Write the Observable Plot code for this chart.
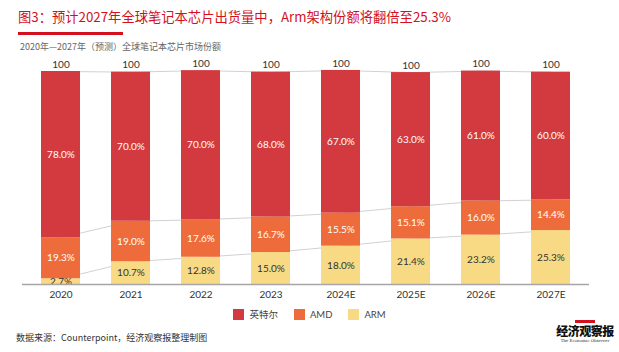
<!DOCTYPE html>
<html>
<head>
<meta charset="utf-8">
<script src="https://cdn.jsdelivr.net/npm/d3@7"></script>
<script src="https://cdn.jsdelivr.net/npm/@observablehq/plot@0.6"></script>
<style>
  html, body { margin: 0; padding: 0; background: #fff; }
  #page { position: relative; width: 619px; height: 352px; overflow: hidden; font-family: "Noto Sans CJK SC", "Noto Sans", sans-serif; }
  #title { position: absolute; left: 18px; top: 7px; font-size: 13.3px; color: #d2101e; white-space: nowrap; }
  #underline { position: absolute; left: 18px; top: 32px; width: 105px; height: 3px; background: #d2101e; }
  #subtitle { position: absolute; left: 20px; top: 40px; font-size: 9px; color: #666; white-space: nowrap; }
  #chart { position: absolute; left: 0; top: 55px; }
  #legend { position: absolute; left: 0; top: 307px; width: 619px; display: flex; justify-content: center; align-items: center; font-size: 9.5px; color: #444; font-family: Lato, "Noto Sans CJK SC", sans-serif; }
  #legend .item { display: flex; align-items: center; margin: 0 8px 0 8px; }
  #legend .sw { width: 11px; height: 11px; margin-right: 5px; }
  #source { position: absolute; left: 16px; top: 331px; font-size: 9px; color: #333; white-space: nowrap; }
  #logo { position: absolute; left: 556px; top: 320px; width: 58px; text-align: center; }
  #logo .band { width: 20px; height: 3px; background: #d2101e; margin: 0 auto 1px auto; }
  #logo .name { font-family: "Noto Sans CJK SC", serif; font-weight: 900; font-size: 12px; color: #111; line-height: 14px; letter-spacing: -0.5px; }
  #logo .en { font-family: "DejaVu Serif", serif; font-size: 4px; color: #333; line-height: 5px; }
</style>
</head>
<body>
<div id="page">
  <div id="title">图3：预计2027年全球笔记本芯片出货量中，Arm架构份额将翻倍至25.3%</div>
  <div id="underline"></div>
  <div id="subtitle">2020年—2027年（预测）全球笔记本芯片市场份额</div>
  <div id="chart"></div>
  <div id="legend"></div>
  <div id="source">数据来源：Counterpoint，经济观察报整理制图</div>
  <div id="logo"><div class="band"></div><div class="name">经济观察报</div><div class="en">The Economic Observer</div></div>
</div>
<script>
const years = ["2020", "2021", "2022", "2023", "2024E", "2025E", "2026E", "2027E"];
const intel = [78.0, 70.0, 70.0, 68.0, 67.0, 63.0, 61.0, 60.0];
const amd   = [19.3, 19.0, 17.6, 16.7, 15.5, 15.1, 16.0, 14.4];
const arm   = [2.7, 10.7, 12.8, 15.0, 18.0, 21.4, 23.2, 25.3];
const totalLabels = ["100", "100", "100", "100", "100", "100", "100", "100"];
const seriesNames = ["ARM", "AMD", "英特尔"];
const legendOrder = ["英特尔", "AMD", "ARM"];
const colors = { "英特尔": "#d23a3f", "AMD": "#ee6c3b", "ARM": "#f8da85" };
const labelColors = { "英特尔": "#ffffff", "AMD": "#ffffff", "ARM": "#333333" };

// long table: bottom-to-top stacking order
const rows = [];
years.forEach((y, i) => {
  rows.push({ year: y, series: "ARM", value: arm[i] });
  rows.push({ year: y, series: "AMD", value: amd[i] });
  rows.push({ year: y, series: "英特尔", value: intel[i] });
});

// cumulative levels for connector lines
const levels = years.map((y, i) => [arm[i], arm[i] + amd[i], arm[i] + amd[i] + intel[i]]);
const links = [];
for (let i = 0; i < years.length - 1; i++) {
  for (let k = 0; k < 3; k++) {
    links.push({ x1: years[i], x2: years[i + 1], y1: levels[i][k], y2: levels[i + 1][k] });
  }
}
const totals = years.map((y, i) => ({ year: y, total: levels[i][2], label: totalLabels[i] }));

const chart = Plot.plot({
  width: 619,
  height: 250,
  marginLeft: 22,
  marginRight: 30,
  marginTop: 16,
  marginBottom: 21,
  style: { fontFamily: "Lato, 'Noto Sans', sans-serif", fontSize: "10px", color: "#333", background: "transparent" },
  x: { domain: years, paddingInner: 0.45, paddingOuter: 0.225, label: null, tickSize: 0, tickPadding: 6 },
  y: { domain: [0, 100], axis: null },
  color: { domain: seriesNames, range: seriesNames.map(s => colors[s]) },
  marks: [
    Plot.link(links, { x1: "x1", x2: "x2", y1: "y1", y2: "y2", stroke: "#bdbdbd", strokeWidth: 0.7 }),
    Plot.barY(rows, { x: "year", y: "value", fill: "series" }),
    Plot.text(rows, Plot.stackY({ x: "year", y: "value", text: d => d.value.toFixed(1) + "%", fill: d => labelColors[d.series], fontSize: 10 })),
    Plot.text(totals, { x: "year", y: "total", text: "label", dy: -7, fill: "#333", fontSize: 10 }),
    Plot.ruleY([0], { stroke: "#a6a6a6", strokeWidth: 1.5 })
  ]
});
document.getElementById("chart").appendChild(chart);

const legend = document.getElementById("legend");
legendOrder.forEach(s => {
  const item = document.createElement("div");
  item.className = "item";
  const sw = document.createElement("div");
  sw.className = "sw";
  sw.style.background = colors[s];
  const lb = document.createElement("span");
  lb.textContent = s;
  item.appendChild(sw);
  item.appendChild(lb);
  legend.appendChild(item);
});
</script>
</body>
</html>
